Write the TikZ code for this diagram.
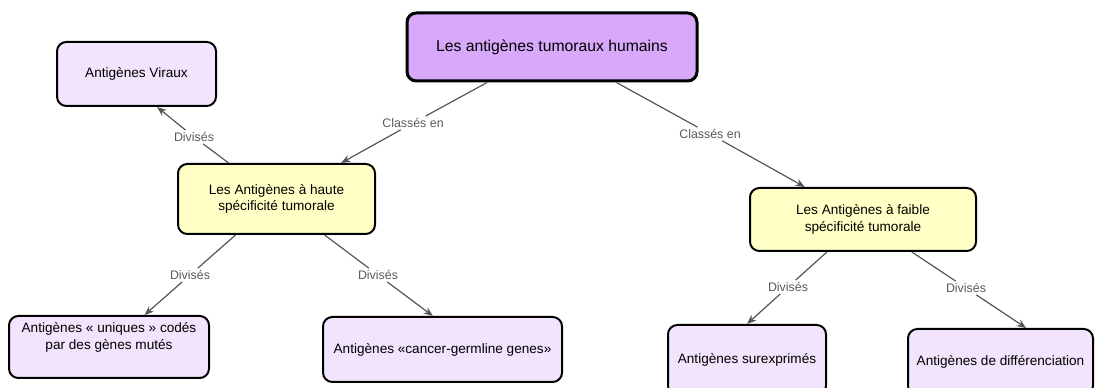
\documentclass[tikz,border=0pt]{standalone}
\usepackage{fontspec}
\setmainfont{Liberation Sans}
\usetikzlibrary{arrows.meta}
\definecolor{rootfill}{HTML}{D8A8FA}
\definecolor{lightpurple}{HTML}{F1E4FC}
\definecolor{lightyellow}{HTML}{FFFFC6}
\definecolor{edgegray}{HTML}{555555}
\definecolor{labgray}{HTML}{5A5A5A}
\begin{document}
\begin{tikzpicture}[x=0.75pt,y=-0.75pt,
 box/.style={draw=black, line width=1.5pt, rounded corners=7pt, align=center, font=\fontsize{10.2}{12.5}\selectfont, inner sep=0pt},
 purplebox/.style={box, fill=lightpurple},
 yellowbox/.style={box, fill=lightyellow},
 rootbox/.style={box, fill=rootfill, line width=2.25pt, font=\fontsize{11.8}{14}\selectfont},
 lab/.style={fill=white, text=labgray, font=\fontsize{9.3}{11}\selectfont, inner sep=1.5pt},
 conn/.style={draw=edgegray, line width=0.9pt},
 arr/.style={conn, -{Stealth[length=7pt,width=5.5pt]}},
]
\useasboundingbox (0,0) rectangle (1097,388);
\begin{scope}
\clip (0,0) rectangle (1097,388);
\node[rootbox, minimum width=217.5pt, minimum height=51pt] (root) at (552,47) {Les antigènes tumoraux humains};
\node[purplebox, minimum width=119.25pt, minimum height=48pt] (viraux) at (136.5,74) {Antigènes Viraux};
\node[yellowbox, minimum width=147.75pt, minimum height=52.5pt] (haute) at (276.5,199) {Les Antigènes à haute\\spécificité tumorale};
\node[yellowbox, minimum width=169.5pt, minimum height=47.25pt] (faible) at (863,219.5) {Les Antigènes à faible\\spécificité tumorale};
\node[purplebox, minimum width=150pt, minimum height=46.5pt] (uniques) at (109,347) {Antigènes « uniques » codés\\par des gènes mutés\\\strut};
\node[purplebox, minimum width=179.25pt, minimum height=48.75pt] (cancer) at (442.5,349.5) {Antigènes «cancer-germline genes»};
\node[purplebox, minimum width=118.5pt, minimum height=52.5pt] (surexp) at (747,360) {Antigènes surexprimés};
\node[purplebox, minimum width=138.75pt, minimum height=49.5pt] (diff) at (1000.5,362) {Antigènes de différenciation};
\end{scope}

\node[lab] (l1) at (413,123) {Classés en};
\node[lab] (l2) at (710,134) {Classés en};
\node[lab] (l3) at (194,137) {Divisés};
\node[lab] (l4) at (190,275) {Divisés};
\node[lab] (l5) at (378,275) {Divisés};
\node[lab] (l6) at (788,287) {Divisés};
\node[lab] (l7) at (966,288) {Divisés};

\draw[conn] (root) -- (l1);
\draw[arr] (l1) -- (haute);
\draw[conn] (root) -- (l2);
\draw[arr] (l2) -- (faible);
\draw[conn] (haute) -- (l3);
\draw[arr] (l3) -- (viraux.-58);
\draw[conn] (haute) -- (l4);
\draw[arr] (l4) -- (uniques.42);
\draw[conn] (haute) -- (l5);
\draw[arr] (l5) -- (cancer.106);
\draw[conn] (faible) -- (l6);
\draw[arr] (l6) -- (surexp.north);
\draw[conn] (faible) -- (l7);
\draw[arr] (l7) -- (diff.53);
\end{tikzpicture}
\end{document}
